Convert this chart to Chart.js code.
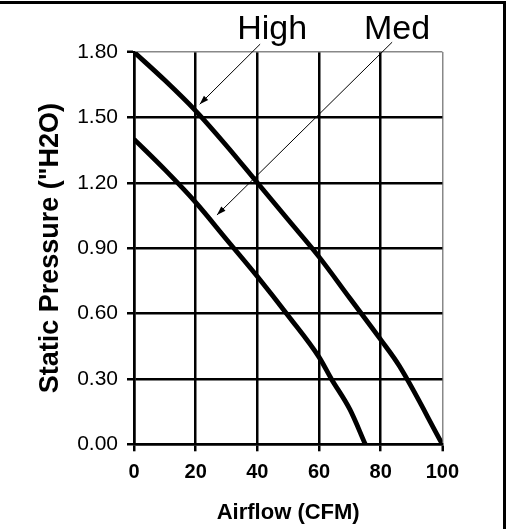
<!DOCTYPE html>
<html>
<head>
<meta charset="utf-8">
<script src="https://cdn.jsdelivr.net/npm/chart.js@4"></script>
<style>
  html, body { margin: 0; padding: 0; background: #fff; }
  #wrap { position: relative; width: 509px; height: 529px; }
</style>
</head>
<body>
<div id="wrap"><canvas id="c" width="509" height="529"></canvas></div>
<script>
// ---- data ----
const highX = [0, 10, 20, 30, 40, 50, 60, 70, 80, 86, 100];
const highY = [1.80, 1.67, 1.53, 1.37, 1.20, 1.03, 0.86, 0.67, 0.48, 0.36, 0.00];
const medX  = [0, 10, 20, 30, 40, 50, 60, 64, 70, 75];
const medY  = [1.40, 1.26, 1.11, 0.94, 0.77, 0.59, 0.40, 0.30, 0.16, 0.00];
const xTickValues = [0, 20, 40, 60, 80, 100];
const yTickValues = [0.00, 0.30, 0.60, 0.90, 1.20, 1.50, 1.80];
const yTickLabels = ['0.00', '0.30', '0.60', '0.90', '1.20', '1.50', '1.80'];
const xTitle = 'Airflow (CFM)';
const yTitle = 'Static Pressure ("H2O)';
const seriesNames = ['High', 'Med'];
// annotation anchors in data units: [labelX, labelY, tailX, tailY, tipX, tipY]
const annHigh = [44.8, 1.860, 40.9, 1.836, 21.3, 1.560];
const annMed  = [85.3, 1.860, 83.7, 1.845, 26.9, 1.052];

const FONT = "'Liberation Sans', Arial, Helvetica, sans-serif";

const toPts = (xs, ys) => xs.map((x, i) => ({ x: x, y: ys[i] }));

const annotationPlugin = {
  id: 'ann',
  afterDraw(chart) {
    const ctx = chart.ctx;
    const xs = chart.scales.x, ys = chart.scales.y;
    ctx.save();
    // outer frame (top + right)
    ctx.fillStyle = '#000';
    ctx.fillRect(0, 1, 506, 3);
    ctx.fillRect(503, 1, 3, 528);
    const anns = [[seriesNames[0], annHigh], [seriesNames[1], annMed]];
    anns.forEach(([txt, a]) => {
      ctx.font = '34px ' + FONT;
      ctx.fillStyle = '#000';
      ctx.textAlign = 'center';
      ctx.textBaseline = 'alphabetic';
      ctx.fillText(txt, xs.getPixelForValue(a[0]), ys.getPixelForValue(a[1]));
      const x1 = xs.getPixelForValue(a[2]), y1 = ys.getPixelForValue(a[3]);
      const x2 = xs.getPixelForValue(a[4]), y2 = ys.getPixelForValue(a[5]);
      ctx.strokeStyle = '#000';
      ctx.lineWidth = 1;
      ctx.beginPath();
      ctx.moveTo(x1, y1);
      ctx.lineTo(x2, y2);
      ctx.stroke();
      const ang = Math.atan2(y2 - y1, x2 - x1);
      const L = 9, W = 3;
      ctx.beginPath();
      ctx.moveTo(x2, y2);
      ctx.lineTo(x2 - L * Math.cos(ang) + W * Math.sin(ang), y2 - L * Math.sin(ang) - W * Math.cos(ang));
      ctx.lineTo(x2 - L * Math.cos(ang) - W * Math.sin(ang), y2 - L * Math.sin(ang) + W * Math.cos(ang));
      ctx.closePath();
      ctx.fill();
    });
    ctx.restore();
  }
};

const lastGridColor = (ctx, n) => (ctx.index === n - 1 ? '#888' : '#000');
const lastGridWidth = (ctx, n) => (ctx.index === n - 1 ? 1.5 : 2.5);

new Chart(document.getElementById('c'), {
  type: 'line',
  data: {
    datasets: [
      { label: seriesNames[0], data: toPts(highX, highY) },
      { label: seriesNames[1], data: toPts(medX, medY) }
    ]
  },
  options: {
    responsive: false,
    animation: false,
    devicePixelRatio: 1,
    layout: { padding: { left: 0, top: 52, right: 66.6, bottom: 0 } },
    elements: {
      line: { borderColor: '#000', borderWidth: 4.8, cubicInterpolationMode: 'monotone', fill: false },
      point: { radius: 0 }
    },
    plugins: { legend: { display: false }, tooltip: { enabled: false } },
    scales: {
      x: {
        type: 'linear', min: 0, max: 100,
        afterBuildTicks: s => { s.ticks = xTickValues.map(v => ({ value: v })); },
        afterFit: s => { s.height = 529 - 444.3; },
        grid: {
          color: c => lastGridColor(c, xTickValues.length),
          lineWidth: c => lastGridWidth(c, xTickValues.length),
          tickColor: '#000', tickWidth: 2.5, tickLength: 7, drawTicks: true
        },
        border: { display: true, color: '#000', width: 2.5 },
        ticks: {
          color: '#000', padding: 9, maxRotation: 0, autoSkip: false,
          font: { family: FONT, size: 20, weight: 'bold' },
          callback: v => String(v)
        },
        title: {
          display: true, text: xTitle, color: '#000',
          font: { family: FONT, size: 22, weight: 'bold' },
          padding: { top: 0, bottom: 3 }
        }
      },
      y: {
        type: 'linear', min: 0, max: 1.8,
        afterBuildTicks: s => { s.ticks = yTickValues.map(v => ({ value: v })); },
        afterFit: s => { s.width = 134; },
        grid: {
          color: c => lastGridColor(c, yTickValues.length),
          lineWidth: c => lastGridWidth(c, yTickValues.length),
          tickColor: '#000', tickWidth: 2.5, tickLength: 7, drawTicks: true
        },
        border: { display: true, color: '#000', width: 2.5 },
        ticks: {
          color: '#000', padding: 9, autoSkip: false,
          font: { family: FONT, size: 21 },
          callback: (v, i) => yTickLabels[i]
        },
        title: {
          display: true, text: yTitle, color: '#000',
          font: { family: FONT, size: 27, weight: 'bold' },
          padding: { top: 34, bottom: 0 }
        }
      }
    }
  },
  plugins: [annotationPlugin]
});
</script>
</body>
</html>
